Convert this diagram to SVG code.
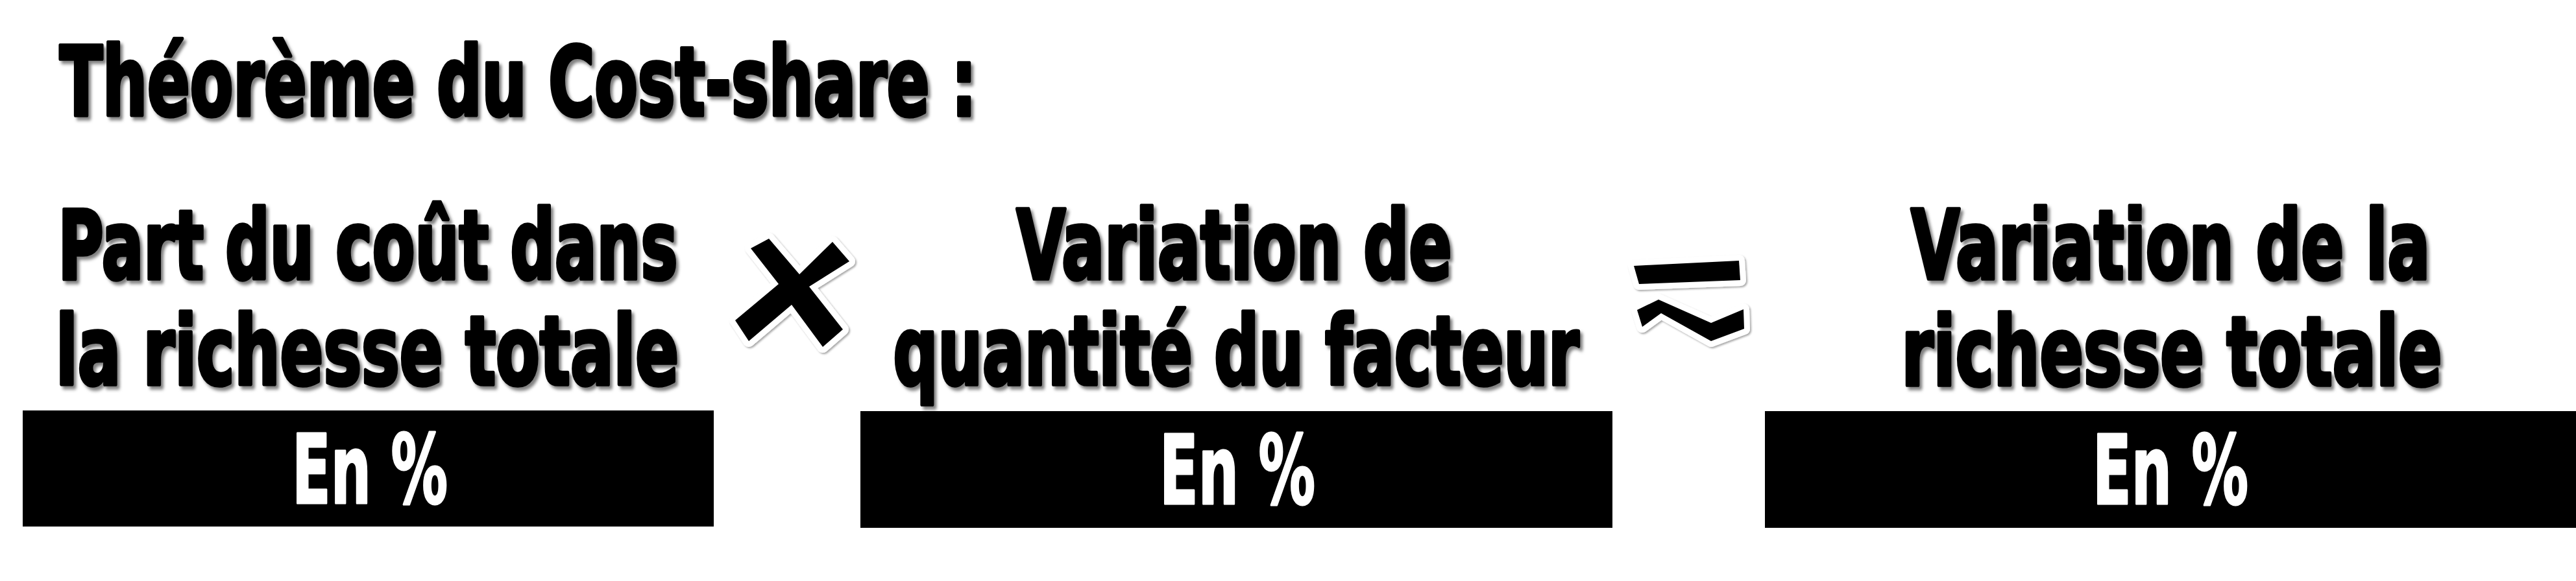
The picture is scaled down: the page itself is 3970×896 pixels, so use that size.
<svg xmlns="http://www.w3.org/2000/svg" width="3970" height="896" viewBox="0 0 3970 896">
  <style>
    .t { font-family: "DejaVu Sans Condensed", "DejaVu Sans", "Liberation Sans", sans-serif; font-weight: bold; font-stretch: condensed; font-size: 118px; fill: #000; stroke: #000; stroke-width: 4.5; stroke-linejoin: round; }
    .c { text-anchor: middle; }
    .sh { filter: url(#shadow); }
    .box { fill: #000; }
    .pct { font-family: "DejaVu Sans Condensed", "DejaVu Sans", "Liberation Sans", sans-serif; font-weight: bold; font-stretch: condensed; font-size: 148px; fill: #fff; stroke: #fff; stroke-width: 3; stroke-linejoin: round; text-anchor: middle; }
    .op { fill: #000; stroke: #fff; stroke-width: 18; stroke-linejoin: round; paint-order: stroke; filter: url(#opshadow); }
  </style>
  <defs>
    <filter id="shadow" filterUnits="userSpaceOnUse" x="-4000" y="-1000" width="8000" height="2000">
      <feDropShadow dx="4" dy="4" stdDeviation="2.2" flood-color="#000" flood-opacity="0.5"/>
    </filter>
    <filter id="opshadow" filterUnits="userSpaceOnUse" x="0" y="0" width="3970" height="896">
      <feDropShadow dx="2" dy="2" stdDeviation="1.5" flood-color="#000" flood-opacity="0.35"/>
    </filter>
  </defs>
  <rect width="3970" height="896" fill="#fff"/>

  <g id="title">
    <text class="t sh" transform="translate(92,178) scale(1,1.25)" x="0" y="0" textLength="1413" lengthAdjust="spacingAndGlyphs">Théorème du Cost-share :</text>
  </g>

  <g id="node1">
    <text class="t c sh" transform="translate(567,430) scale(1,1.25)" x="0" y="0" textLength="955" lengthAdjust="spacingAndGlyphs">Part du coût dans</text>
    <text class="t c sh" transform="translate(566,593) scale(1,1.25)" x="0" y="0" textLength="960" lengthAdjust="spacingAndGlyphs">la richesse totale</text>
    <rect class="box" x="35" y="633" width="1065" height="179"/>
    <text class="pct" x="570" y="776" textLength="240" lengthAdjust="spacingAndGlyphs">En %</text>
  </g>

  <g id="node2">
    <text class="t c sh" transform="translate(1902,430) scale(1,1.25)" x="0" y="0" textLength="671" lengthAdjust="spacingAndGlyphs">Variation de</text>
    <text class="t c sh" transform="translate(1905,593) scale(1,1.25)" x="0" y="0" textLength="1057" lengthAdjust="spacingAndGlyphs">quantité du facteur</text>
    <rect class="box" x="1326" y="634" width="1159" height="180"/>
    <text class="pct" x="1907" y="777" textLength="240" lengthAdjust="spacingAndGlyphs">En %</text>
  </g>

  <g id="node3">
    <text class="t c sh" transform="translate(3345,430) scale(1,1.25)" x="0" y="0" textLength="800" lengthAdjust="spacingAndGlyphs">Variation de la</text>
    <text class="t c sh" transform="translate(3347,594) scale(1,1.25)" x="0" y="0" textLength="833" lengthAdjust="spacingAndGlyphs">richesse totale</text>
    <rect class="box" x="2720" y="634" width="1250" height="180"/>
    <text class="pct" x="3345" y="777" textLength="240" lengthAdjust="spacingAndGlyphs">En %</text>
  </g>

  <g id="connectors">
    <g id="op-times">
      <polygon class="op" points="1157,383 1185,368 1232,423 1283,373 1309,403 1247,442 1299,508 1268,535 1220,470 1154,526 1133,494 1200,438"/>
    </g>
    <g id="op-approx">
      <polygon class="op" points="2518,410 2680,402 2682,432 2526,438"/>
      <polygon class="op" points="2523,478 2556,462 2637,498 2687,477 2688,507 2637,526 2560,483 2531,504"/>
    </g>
  </g>
</svg>
